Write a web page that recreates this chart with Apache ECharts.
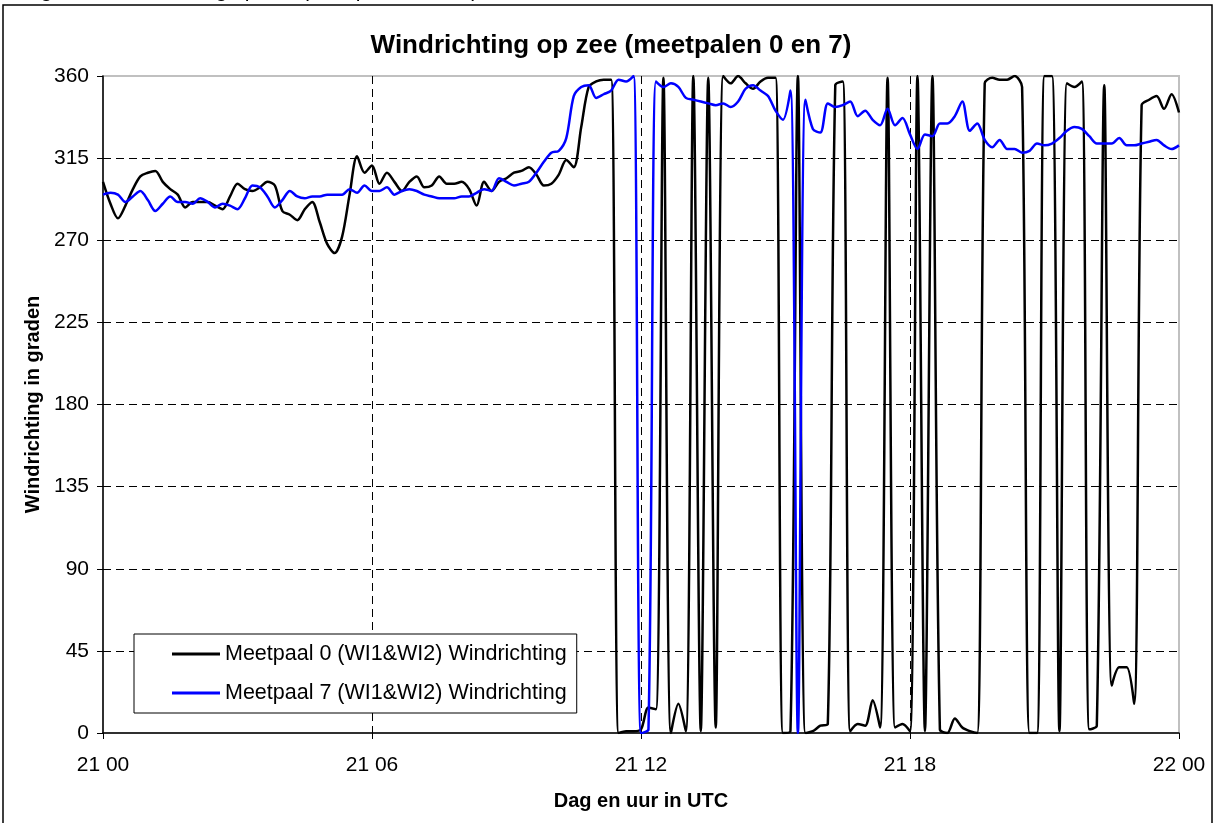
<!DOCTYPE html>
<html lang="nl">
<head>
    <meta charset="UTF-8">
    <title>Windrichting op zee</title>
    <script src="https://cdn.jsdelivr.net/npm/echarts@6/dist/echarts.min.js"></script>
    <style>
        html, body { margin: 0; padding: 0; background: #fff; }
        #main { width: 1216px; height: 823px; }
    </style>
</head>
<body>
<div id="main"></div>
<script>
    // x = 10-minuten stappen vanaf 21 00 (0..144 = 24 uur)
    var tickLabels = ["21 00", "21 06", "21 12", "21 18", "22 00"];

    var meetpaal0 = [
        302, 290, 282, 289, 298, 305, 307, 308, 302, 298,
        295, 288, 291, 291, 291, 289, 287, 294, 301, 298,
        297, 299, 302, 300, 286, 284, 281, 287, 291, 280,
        268, 263, 272, 295, 316, 307, 311, 301, 307, 302,
        297, 302, 305, 299, 300, 305, 301, 301, 302, 298,
        289, 302, 297, 302, 304, 307, 308, 310, 306, 300,
        301, 306, 314, 310, 332, 354, 357, 358, 358, 0,
        1, 1, 2, 14, 13, 359, 0, 16, 1, 360,
        1, 359, 3, 360, 356, 360, 356, 353, 357, 359,
        359, 0, 1, 360, 0, 1, 4, 5, 355, 357,
        1, 5, 4, 18, 3, 359, 3, 5, 1, 360,
        1, 360, 2, 0, 8, 3, 1, 0, 356, 359,
        358, 358, 360, 354, 0, 0, 360, 360, 1, 356,
        354, 357, 2, 4, 355, 26, 36, 36, 16, 344,
        347, 349, 342, 350, 340
    ];

    var meetpaal7 = [
        295, 296, 295, 291, 294, 297, 292, 286, 290, 294,
        291, 291, 290, 293, 291, 288, 290, 289, 287, 293,
        300, 299, 294, 288, 292, 297, 294, 293, 294, 294,
        295, 295, 295, 298, 296, 300, 297, 297, 299, 295,
        297, 298, 297, 295, 294, 293, 293, 293, 294, 294,
        296, 298, 297, 304, 302, 300, 301, 302, 307, 313,
        318, 319, 326, 349, 354, 355, 348, 350, 352, 358,
        357, 360, 0, 2, 357, 354, 356, 354, 348, 347,
        346, 345, 344, 345, 343, 346, 353, 355, 352, 349,
        341, 336, 352, 0, 347, 331, 329, 345, 343, 344,
        346, 338, 341, 336, 333, 342, 333, 337, 328, 320,
        328, 327, 334, 334, 338, 346, 330, 334, 325, 321,
        325, 320, 320, 318, 319, 323, 322, 323, 326, 330,
        332, 331, 327, 323, 323, 323, 326, 322, 322, 323,
        324, 325, 322, 320, 322
    ];

    var font = "'Liberation Sans', Arial, sans-serif";
    var none = "rgba(0,0,0,0)";

    function pairs(arr) {
        return arr.map(function (v, i) { return [i, v]; });
    }

    var myChart = echarts.init(document.getElementById("main"));
    var option = {
        animation: false,
        backgroundColor: "#fff",
        textStyle: { fontFamily: font, color: "#000" },
        title: {
            text: "Windrichting op zee (meetpalen 0 en 7)",
            left: 606,
            textAlign: "center",
            top: 28,
            textStyle: { fontFamily: font, fontSize: 26, fontWeight: "bold", color: "#000" }
        },
        graphic: [
            {
                type: "text",
                left: 23,
                top: -19,
                style: {
                    text: "Figuur 2: Windrichting op zee (meetpalen 0 en 7)",
                    font: "21px " + font,
                    fill: "#000"
                }
            },
            {
                type: "rect",
                shape: { x: 3, y: 5, width: 1209, height: 840 },
                style: { fill: "none", stroke: "#000", lineWidth: 1.5 },
                silent: true
            }
        ],
        grid: {
            left: 103, right: 37, top: 76, bottom: 90,
            show: true,
            borderColor: "#c0c0c0",
            borderWidth: 2
        },
        legend: {
            orient: "vertical",
            left: 134,
            top: 634,
            padding: [9, 10, 9, 38],
            itemGap: 17,
            itemWidth: 48,
            itemHeight: 3,
            icon: "rect",
            backgroundColor: "#fff",
            borderColor: "#000",
            borderWidth: 1,
            borderRadius: 0,
            textStyle: { fontFamily: font, fontSize: 21.5, color: "#000" },
            data: ["Meetpaal 0 (WI1&WI2) Windrichting", "Meetpaal 7 (WI1&WI2) Windrichting"]
        },
        xAxis: {
            type: "value",
            min: 0,
            max: 144,
            interval: 36,
            name: "Dag en uur in UTC",
            nameLocation: "middle",
            nameGap: 58,
            nameTextStyle: { fontFamily: font, fontSize: 20, fontWeight: "bold", color: "#000" },
            axisLine: { lineStyle: { color: "#000", width: 1.5 } },
            axisTick: { length: 6, lineStyle: { color: "#000" } },
            axisLabel: {
                fontSize: 21, color: "#000", margin: 22,
                formatter: function (v) { return tickLabels[v / 36]; }
            },
            splitLine: {
                show: true,
                lineStyle: { type: [8, 5], color: [none, "#000", "#000", "#000", none], width: 1 }
            }
        },
        yAxis: {
            type: "value",
            min: 0,
            max: 360,
            interval: 45,
            name: "Windrichting in graden",
            nameLocation: "middle",
            nameGap: 57,
            nameTextStyle: { fontFamily: font, fontSize: 20, fontWeight: "bold", color: "#000" },
            axisLine: { show: true, lineStyle: { color: "#000", width: 1.5 } },
            axisTick: { show: true, length: 6, lineStyle: { color: "#000" } },
            axisLabel: { fontSize: 21, color: "#000", margin: 14 },
            splitLine: {
                show: true,
                lineStyle: {
                    type: [8, 5],
                    color: [none, "#000", "#000", "#000", "#000", "#000", "#000", "#000", none],
                    width: 1
                }
            }
        },
        series: [
            {
                name: "Meetpaal 0 (WI1&WI2) Windrichting",
                type: "line",
                data: pairs(meetpaal0),
                showSymbol: false,
                symbol: "none",
                smooth: 0.3,
                color: "#000000",
                lineStyle: { width: 2.5, color: "#000000" }
            },
            {
                name: "Meetpaal 7 (WI1&WI2) Windrichting",
                type: "line",
                data: pairs(meetpaal7),
                showSymbol: false,
                symbol: "none",
                smooth: 0.3,
                color: "#0000ff",
                lineStyle: { width: 2.5, color: "#0000ff" }
            }
        ]
    };
    myChart.setOption(option);
</script>
</body>
</html>
